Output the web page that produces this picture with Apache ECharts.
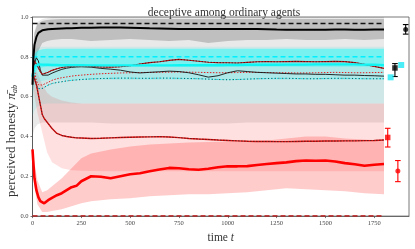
<!DOCTYPE html>
<html><head><meta charset="utf-8">
<script src="https://cdn.jsdelivr.net/npm/echarts@6/dist/echarts.min.js"></script>
<style>html,body{margin:0;padding:0;background:#fff}#c{width:415px;height:249px}</style>
</head><body><div id="c"></div>
<script>
// ---- time grid for lines ----
const T = [0,5,10,20,30,40,50,60,80,100,125,150,175,200,225,250,
  300,350,400,450,500,550,600,650,700,750,800,850,900,950,1000,1050,1100,1150,1200,1250,1300,1350,1400,1450,1500,1550,1600,1650,1700,1750,1800];

const honestMean = [0.66,0.80,0.86,0.90,0.92,0.928,0.933,0.936,0.938,0.940,0.941,0.942,0.943,0.944,0.945,0.946,
  0.946,0.947,0.947,0.947,0.946,0.945,0.943,0.942,0.941,0.940,
  0.940,0.940,0.940,0.940,0.940,0.940,0.940,0.940,
  0.939,0.937,0.936,0.936,0.936,0.936,0.936,0.937,0.937,0.936,0.936,0.937,0.937];

const cyanMean = [0.70,0.73,0.75,0.76,0.762,0.762,0.761,0.760,0.760,0.759,0.759,0.758,0.758,0.758,0.758,0.758,
  0.757,0.757,0.757,0.757,0.757,0.757,0.757,0.757,0.757,0.758,0.758,0.758,0.758,0.758,0.759,0.759,
  0.760,0.760,0.760,0.760,0.761,0.761,0.761,0.762,0.762,0.762,0.762,0.762,0.761,0.760,0.758];

const redMean = [0.335,0.26,0.19,0.13,0.095,0.075,0.066,0.064,0.080,0.092,0.105,0.115,0.130,0.145,0.152,0.175,
  0.200,0.198,0.190,0.200,0.210,0.215,0.225,0.234,0.242,0.240,0.235,0.233,0.238,0.245,0.250,0.250,
  0.251,0.257,0.262,0.266,0.270,0.276,0.279,0.278,0.279,0.274,0.266,0.260,0.253,0.258,0.262];

const thinRed = [0.72,0.72,0.71,0.66,0.61,0.56,0.51,0.49,0.465,0.44,0.415,0.405,0.400,0.396,0.393,0.392,
  0.390,0.391,0.393,0.395,0.396,0.397,0.398,0.399,0.397,0.394,0.390,0.387,0.385,0.382,0.380,0.378,
  0.376,0.375,0.375,0.374,0.374,0.375,0.376,0.376,0.377,0.377,0.378,0.378,0.379,0.380,0.382];

const midA = [0.72,0.76,0.78,0.77,0.745,0.725,0.712,0.712,0.722,0.732,0.740,0.746,0.750,0.752,0.753,0.754,
  0.752,0.749,0.748,0.750,0.755,0.764,0.771,0.775,0.782,0.787,0.783,0.778,0.773,0.771,0.770,0.769,
  0.772,0.775,0.776,0.775,0.776,0.777,0.776,0.775,0.776,0.777,0.776,0.771,0.762,0.752,0.742];

const midB = [0.70,0.74,0.77,0.795,0.78,0.735,0.708,0.700,0.708,0.718,0.728,0.737,0.743,0.747,0.749,0.750,
  0.748,0.742,0.738,0.733,0.724,0.719,0.722,0.725,0.728,0.726,0.720,0.710,0.698,0.705,0.720,0.730,
  0.726,0.722,0.720,0.718,0.716,0.714,0.714,0.712,0.712,0.710,0.708,0.708,0.706,0.705,0.703];

const midC = [0.72,0.75,0.73,0.68,0.66,0.655,0.658,0.662,0.672,0.682,0.690,0.695,0.699,0.703,0.706,0.708,
  0.712,0.715,0.717,0.719,0.720,0.721,0.722,0.722,0.723,0.724,0.723,0.722,0.721,0.720,0.720,0.721,
  0.722,0.722,0.721,0.720,0.720,0.719,0.719,0.720,0.721,0.722,0.721,0.720,0.720,0.721,0.722];

const midD = [0.70,0.72,0.70,0.66,0.64,0.637,0.641,0.648,0.658,0.666,0.671,0.675,0.679,0.682,0.684,0.686,
  0.689,0.691,0.692,0.693,0.693,0.692,0.692,0.693,0.693,0.692,0.691,0.690,0.688,0.686,0.685,0.686,
  0.688,0.690,0.691,0.692,0.692,0.691,0.690,0.690,0.691,0.692,0.692,0.691,0.690,0.690,0.690];

// ---- band grid ----
const TB = [0,10,25,50,75,100,150,200,250,300,400,500,600,700,800,900,1000,1100,1200,1300,1400,1500,1600,1700,1800];
const grayOutLo = [0.40,0.44,0.46,0.47,0.47,0.47,0.47,0.47,0.47,0.47,0.465,0.465,0.465,0.465,0.465,0.465,0.465,0.47,0.47,0.47,0.47,0.47,0.47,0.47,0.47];
const grayOutHi = [0.85,0.93,0.975,0.99,0.995,1,1,1,1,1,1,1,1,1,1,1,1,1,1,1,1,1,1,1,1];
const grayInLo  = [0.55,0.72,0.82,0.87,0.88,0.885,0.89,0.89,0.885,0.88,0.885,0.89,0.885,0.88,0.885,0.87,0.88,0.885,0.885,0.89,0.885,0.885,0.89,0.885,0.89];
const grayInHi  = [0.78,0.92,0.965,0.98,0.985,0.988,0.99,0.99,0.99,0.99,0.99,0.99,0.99,0.99,0.99,0.99,0.99,0.99,0.99,0.99,0.99,0.99,0.99,0.99,0.99];
const cyanOutLo = [0.50,0.53,0.55,0.56,0.565,0.565,0.565,0.565,0.565,0.565,0.565,0.565,0.565,0.565,0.565,0.565,0.565,0.565,0.565,0.565,0.565,0.565,0.565,0.565,0.565];
const cyanOutHi = [0.80,0.83,0.845,0.85,0.85,0.85,0.85,0.85,0.85,0.85,0.85,0.85,0.85,0.85,0.85,0.85,0.85,0.85,0.85,0.85,0.85,0.85,0.85,0.85,0.85];
const cyanMidLo = [0.62,0.65,0.67,0.68,0.685,0.685,0.685,0.685,0.685,0.685,0.685,0.685,0.685,0.685,0.685,0.685,0.685,0.685,0.685,0.685,0.685,0.685,0.685,0.685,0.685];
const cyanMidHi = [0.72,0.74,0.75,0.755,0.755,0.755,0.755,0.755,0.755,0.755,0.755,0.755,0.755,0.755,0.755,0.755,0.755,0.755,0.755,0.755,0.755,0.755,0.755,0.755,0.755];
const cyanInLo  = [0.66,0.71,0.74,0.748,0.752,0.752,0.752,0.752,0.752,0.752,0.752,0.752,0.752,0.752,0.752,0.752,0.752,0.752,0.752,0.752,0.752,0.752,0.752,0.752,0.752];
const cyanInHi  = [0.78,0.815,0.83,0.838,0.84,0.84,0.84,0.84,0.84,0.84,0.84,0.84,0.84,0.84,0.84,0.84,0.84,0.84,0.84,0.84,0.84,0.84,0.84,0.84,0.84];
const redThinLo = [0.72,0.60,0.52,0.42,0.32,0.27,0.24,0.23,0.228,0.226,0.225,0.225,0.225,0.225,0.225,0.225,0.225,0.225,0.225,0.225,0.225,0.225,0.225,0.225,0.225];
const redThinHi = [0.74,0.74,0.72,0.66,0.62,0.60,0.58,0.57,0.565,0.565,0.565,0.565,0.565,0.565,0.565,0.565,0.565,0.565,0.565,0.565,0.565,0.565,0.565,0.565,0.565];
const redThickLo = [0.33,0.15,0.06,0.02,0.02,0.025,0.035,0.05,0.065,0.075,0.085,0.09,0.10,0.105,0.11,0.11,0.115,0.12,0.13,0.14,0.135,0.13,0.125,0.115,0.11];
const redThickHi = [0.34,0.27,0.18,0.12,0.13,0.15,0.19,0.24,0.29,0.315,0.335,0.35,0.36,0.365,0.37,0.372,0.375,0.378,0.38,0.39,0.40,0.40,0.39,0.385,0.38];

// ---- reference levels ----
const refX = [0,1800];
const refBlack = [0.967,0.967];
const refCyan = [0.80,0.80];
const refRed = [0.0,0.0];

// ---- markers at right: [t, value, low, high] ----
const mBlackCircle = [1911,0.937,0.914,0.962];
const mBlackSquare = [1856,0.744,0.701,0.766];
const mCyanA = [1888,0.759];
const mCyanB = [1834,0.697];
const mRedSquare = [1819,0.395,0.347,0.441];
const mRedCircle = [1871,0.226,0.173,0.279];

const xTicks = [0,250,500,750,1000,1250,1500,1750];
const yTicks = [0,0.2,0.4,0.6,0.8,1.0];

const SERIF = 'Liberation Serif, DejaVu Serif, serif';
function pairs(xs, ys){ return xs.map((x,i)=>[x, ys[i]]); }
function band(lo, hi, fill){
  return {type:'custom', silent:true, animation:false, data:[[TB[0], lo[0]]],
    renderItem:function(params, api){
      const pts=[];
      for(let i=0;i<TB.length;i++) pts.push(api.coord([TB[i], hi[i]]));
      for(let i=TB.length-1;i>=0;i--) pts.push(api.coord([TB[i], lo[i]]));
      return {type:'polygon', shape:{points:pts}, style:{fill:fill}};
    }};
}
function line(xs, ys, color, width, type, z){
  return {type:'line', data:pairs(xs, ys), showSymbol:false, symbol:'none', silent:true, animation:false,
    z:z||3, lineStyle:{color:color, width:width, type:type||'solid'}};
}
function errbar(m, color){
  return {type:'custom', silent:true, animation:false, z:6, data:[[m[0], m[2], m[3]]],
    renderItem:function(params, api){
      const a = api.coord([api.value(0), api.value(1)]);
      const b = api.coord([api.value(0), api.value(2)]);
      const w = 2.8;
      const st = {stroke:color, lineWidth:1.1};
      return {type:'group', children:[
        {type:'line', shape:{x1:a[0], y1:a[1], x2:b[0], y2:b[1]}, style:st},
        {type:'line', shape:{x1:a[0]-w, y1:a[1], x2:a[0]+w, y2:a[1]}, style:st},
        {type:'line', shape:{x1:b[0]-w, y1:b[1], x2:b[0]+w, y2:b[1]}, style:st}
      ]};
    }};
}
function marker(m, symbol, size, color){
  return {type:'scatter', silent:true, animation:false, z:7, symbol:symbol, symbolSize:size,
    itemStyle:{color:color}, data:[[m[0], m[1]]]};
}

const chart = echarts.init(document.getElementById('c'));
chart.setOption({
  animation:false,
  backgroundColor:'#fff',
  title:{text:'deceptive among ordinary agents', left:219, top:2, textAlign:'center',
    textStyle:{fontFamily:SERIF, fontSize:11.5, fontWeight:'normal', color:'#333'}},
  grid:{left:32.5, right:6, top:17, bottom:30, show:true, borderColor:'#555', borderWidth:0.8, backgroundColor:'transparent'},
  xAxis:{type:'value', min:0, max:1928,
    name:'{a|time }{b|t}', nameLocation:'middle', nameGap:11,
    nameTextStyle:{rich:{a:{fontFamily:SERIF, fontSize:11.5, color:'#333'}, b:{fontFamily:SERIF, fontSize:11.5, fontStyle:'italic', color:'#333'}}},
    axisLine:{show:true, lineStyle:{color:'#555', width:0.8}},
    axisTick:{show:true, length:2, lineStyle:{color:'#555', width:0.8}, customValues:xTicks},
    axisLabel:{customValues:xTicks, fontFamily:SERIF, fontSize:6.5, color:'#444', margin:4, formatter:v=>String(v)},
    splitLine:{show:false}},
  yAxis:{type:'value', min:0, max:1, interval:0.2,
    axisLine:{show:true, lineStyle:{color:'#555', width:0.8}},
    axisTick:{show:true, length:2, lineStyle:{color:'#555', width:0.8}, customValues:yTicks},
    axisLabel:{customValues:yTicks, fontFamily:SERIF, fontSize:6.5, color:'#444', margin:4, formatter:v=>v.toFixed(1)},
    splitLine:{show:false}},
  graphic:[{type:'text', x:12, y:141, rotation:Math.PI/2,
    style:{text:'{a|perceived honesty }{b|π̄}{c|ab}', align:'center', verticalAlign:'middle',
      rich:{a:{fontFamily:SERIF, fontSize:13, fill:'#333'}, b:{fontFamily:SERIF, fontSize:13, fontStyle:'italic', fill:'#333'}, c:{fontFamily:SERIF, fontSize:8, fontStyle:'italic', fill:'#333', verticalAlign:'bottom', padding:[6,0,0,0]}}}}],
  series:[
    band(grayOutLo, grayOutHi, 'rgba(0,0,0,0.085)'),
    band(redThinLo, redThinHi, 'rgba(255,0,0,0.12)'),
    band(redThickLo, redThickHi, 'rgba(255,0,0,0.20)'),
    band(cyanOutLo, cyanOutHi, 'rgba(0,220,220,0.11)'),
    band(cyanMidLo, cyanMidHi, 'rgba(0,240,240,0.16)'),
    band(grayInLo, grayInHi, 'rgba(0,0,0,0.18)'),
    band(cyanInLo, cyanInHi, 'rgba(0,255,255,0.42)'),
    line(refX, refBlack, '#111', 1.5, [5,3], 3),
    line(refX, refCyan, '#00f0ff', 1.5, [5,3], 3),
    line(refX, refRed, '#c01010', 1.5, [5,3], 3),
    line(T, midD, '#10e0e8', 1.0, [1.5,1.5], 4),
    line(T, midD, '#111', 0.7, [1,2.5], 4),
    line(T, midC, '#e02020', 1.0, [1.5,1.5], 4),
    line(T, midB, '#111', 0.9, 'solid', 4),
    line(T, midA, '#d01010', 1.1, 'solid', 4),
    line(T, midA, '#111', 0.7, [1.5,1.5], 4),
    line(T, thinRed, '#e01010', 1.4, 'solid', 4),
    line(T, thinRed, '#222', 0.7, [1.5,1.5], 4),
    line(T, cyanMean, '#10f4f4', 2.4, 'solid', 5),
    line(T, honestMean, '#000', 2.0, 'solid', 5),
    line(T, redMean, '#ff0000', 2.6, 'solid', 5),
    errbar(mBlackCircle, '#000'),
    errbar(mBlackSquare, '#000'),
    errbar(mRedSquare, '#ff0000'),
    errbar(mRedCircle, '#ff0000'),
    marker(mBlackCircle, 'circle', 5, '#000'),
    marker(mBlackSquare, 'rect', 5.5, '#000'),
    marker(mCyanA, 'rect', 6, '#1ee8f4'),
    marker(mCyanB, 'rect', 6, '#1ee8f4'),
    marker(mRedSquare, 'rect', 5.5, '#ff0000'),
    marker(mRedCircle, 'circle', 5, '#ff0000')
  ]
});
</script></body></html>
